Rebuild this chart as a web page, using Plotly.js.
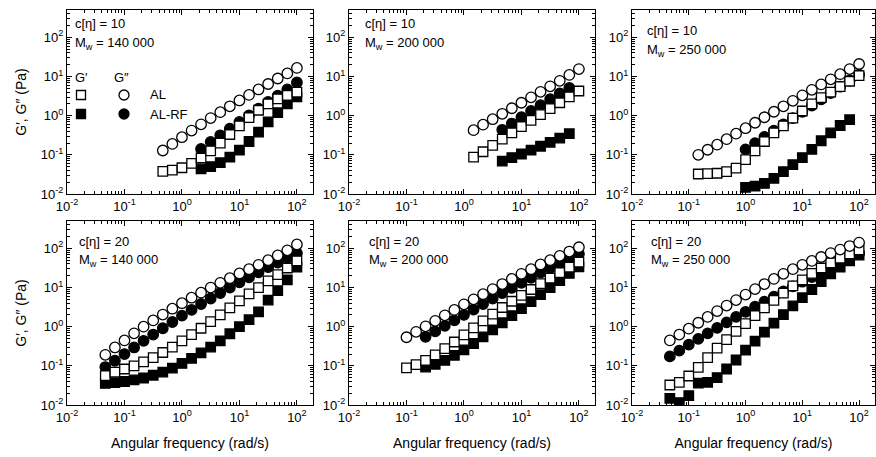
<!DOCTYPE html>
<html>
<head>
<meta charset="utf-8">
<script src="https://cdn.plot.ly/plotly-3.0.1.min.js"></script>
<style>html,body{margin:0;padding:0;background:#fff;}#chart{width:876px;height:457px;}</style>
</head>
<body>
<div id="chart"></div>
<script>
// ---------- DATA (angular frequency in rad/s, moduli in Pa) ----------
// Panel 1: c[eta]=10, Mw=140 000
const p1_w_AL = [0.464,0.681,1,1.47,2.15,3.16,4.64,6.81,10,14.7,21.5,31.6,46.4,68.1,100];
const p1_G2_AL = [0.129,0.19,0.282,0.417,0.603,0.871,1.23,1.74,2.45,3.39,4.68,6.46,8.91,12.0,16.6];
const p1_G1_AL = [0.038,0.0407,0.0468,0.0603,0.0832,0.126,0.2,0.331,0.55,0.891,1.38,2.0,2.69,3.31,3.98];
const p1_w_RF = [2.15,3.16,4.64,6.81,10,14.7,21.5,31.6,46.4,68.1,100];
const p1_G2_RF = [0.141,0.214,0.316,0.468,0.692,1.02,1.51,2.24,3.24,4.68,7.08];
const p1_G1_RF = [0.0437,0.0501,0.0631,0.0871,0.132,0.219,0.38,0.692,1.2,2.0,3.02];
// Panel 2: c[eta]=10, Mw=200 000
const p2_w_AL = [1.47,2.15,3.16,4.64,6.81,10,14.7,21.5,31.6,46.4,68.1,100];
const p2_G2_AL = [0.427,0.589,0.813,1.12,1.55,2.14,2.95,4.07,5.62,7.76,11.0,15.5];
const p2_G1_AL = [0.0871,0.12,0.174,0.251,0.363,0.525,0.759,1.07,1.51,2.14,3.02,4.27];
const p2_w_RF = [4.64,6.81,10,14.7,21.5,31.6,46.4,68.1];
const p2_G2_RF = [0.437,0.631,0.912,1.32,1.86,2.63,3.72,5.13];
const p2_G1_RF = [0.0692,0.0851,0.105,0.132,0.166,0.209,0.269,0.347];
// Panel 3: c[eta]=10, Mw=250 000
const p3_w_AL = [0.147,0.215,0.316,0.464,0.681,1,1.47,2.15,3.16,4.64,6.81,10,14.7,21.5,31.6,46.4,68.1,100];
const p3_G2_AL = [0.1,0.135,0.182,0.251,0.347,0.479,0.661,0.912,1.26,1.74,2.4,3.31,4.57,6.31,8.51,11.5,15.5,20.9];
const p3_G1_AL = [0.0324,0.0331,0.0339,0.0372,0.0457,0.0759,0.126,0.219,0.363,0.55,0.871,1.32,2.0,2.88,3.98,5.5,7.59,10.5];
const p3_w_RFc = [1,1.47,2.15,3.16,4.64,6.81,10,14.7,21.5,31.6,46.4,68.1,100];
const p3_G2_RF = [0.138,0.2,0.288,0.417,0.603,0.871,1.26,1.82,2.63,3.8,5.5,7.94,11.2];
const p3_w_RFs = [1,1.47,2.15,3.16,4.64,6.81,10,14.7,21.5,31.6,46.4,68.1];
const p3_G1_RF = [0.0148,0.0158,0.0186,0.0251,0.0372,0.0562,0.0851,0.138,0.229,0.363,0.562,0.794];
// Panel 4: c[eta]=20, Mw=140 000
const p4_w = [0.0464,0.0681,0.1,0.147,0.215,0.316,0.464,0.681,1,1.47,2.15,3.16,4.64,6.81,10,14.7,21.5,31.6,46.4,68.1,100];
const p4_G2_AL = [0.191,0.295,0.447,0.676,1.0,1.45,2.04,2.88,3.98,5.5,7.41,10,13.2,17.4,22.9,29.5,38.0,50.1,66.1,89.1,126];
const p4_G2_RF = [0.0933,0.135,0.2,0.295,0.437,0.631,0.912,1.32,1.91,2.69,3.8,5.25,7.24,10,13.5,18.2,24.5,33.1,43.7,57.5,75.9];
const p4_G1_AL = [0.0562,0.0692,0.0832,0.1,0.126,0.162,0.219,0.302,0.437,0.631,0.912,1.35,2.0,3.02,4.57,6.92,10,14.8,21.4,31.6,47.9];
const p4_G1_RF = [0.0355,0.0372,0.0398,0.0437,0.049,0.0575,0.0692,0.0871,0.115,0.155,0.214,0.302,0.437,0.661,1.0,1.51,2.4,4.79,8.32,15.8,33.1];
// Panel 5: c[eta]=20, Mw=200 000
const p5_w_AL = [0.1,0.147,0.215,0.316,0.464,0.681,1,1.47,2.15,3.16,4.64,6.81,10,14.7,21.5,31.6,46.4,68.1,100];
const p5_G2_AL = [0.537,0.741,1.02,1.41,1.95,2.69,3.72,5.01,6.76,9.12,12.3,16.6,22.4,29.5,38.9,50.1,64.6,83.2,107];
const p5_G1_AL = [0.0891,0.107,0.138,0.191,0.275,0.407,0.617,0.933,1.41,2.09,3.09,4.47,6.31,8.91,12.6,17.4,24.0,33.1,44.7];
const p5_w_RF = [0.215,0.316,0.464,0.681,1,1.47,2.15,3.16,4.64,6.81,10,14.7,21.5,31.6,46.4,68.1,100];
const p5_G2_RF = [0.55,0.759,1.05,1.45,2.0,2.75,3.8,5.25,7.24,9.77,13.2,17.8,24.0,31.6,41.7,55.0,72.4];
const p5_G1_RF = [0.0933,0.11,0.138,0.186,0.257,0.372,0.55,0.832,1.26,1.91,2.88,4.37,6.61,10,15.1,22.9,33.9];
// Panel 6: c[eta]=20, Mw=250 000
const p6_w = [0.0464,0.0681,0.1,0.147,0.215,0.316,0.464,0.681,1,1.47,2.15,3.16,4.64,6.81,10,14.7,21.5,31.6,46.4,68.1,100];
const p6_G2_AL = [0.447,0.631,0.891,1.26,1.78,2.51,3.47,4.79,6.61,9.12,12.3,16.6,22.4,29.5,38.0,47.9,60.3,75.9,93.3,115,141];
const p6_G2_RF = [0.174,0.245,0.347,0.49,0.676,0.933,1.29,1.78,2.4,3.24,4.37,5.89,7.94,10.7,14.1,18.6,24.5,32.4,42.7,56.2,74.1];
const p6_G1_AL = [0.0324,0.038,0.055,0.0912,0.162,0.282,0.468,0.759,1.2,1.91,3.02,4.68,7.24,11.0,15.8,22.9,31.6,42.7,56.2,72.4,91.2];
const p6_G1_RF = [0.0148,0.0115,0.0174,0.0363,0.038,0.0501,0.0832,0.141,0.251,0.427,0.724,1.23,2.04,3.39,5.5,8.91,14.1,22.4,33.1,47.9,67.6];

const conc = ['10','10','10','20','20','20'];
const mw = ['140 000','200 000','250 000','140 000','200 000','250 000'];
const decadeVals = [0.01,0.1,1,10,100];
const decadeText = ['10<sup>-2</sup>','10<sup>-1</sup>','10<sup>0</sup>','10<sup>1</sup>','10<sup>2</sup>'];
const xTitle = 'Angular frequency (rad/s)';
const yTitle = 'G\u2032, G\u2033 (Pa)';
const legHead = ['G\u2032','G\u2033'];
const legNames = ['AL','AL-RF'];

const panels = [
  {G1RF:[p1_w_RF,p1_G1_RF], G2RF:[p1_w_RF,p1_G2_RF], G1AL:[p1_w_AL,p1_G1_AL], G2AL:[p1_w_AL,p1_G2_AL]},
  {G1RF:[p2_w_RF,p2_G1_RF], G2RF:[p2_w_RF,p2_G2_RF], G1AL:[p2_w_AL,p2_G1_AL], G2AL:[p2_w_AL,p2_G2_AL]},
  {G1RF:[p3_w_RFs,p3_G1_RF], G2RF:[p3_w_RFc,p3_G2_RF], G1AL:[p3_w_AL,p3_G1_AL], G2AL:[p3_w_AL,p3_G2_AL]},
  {G1RF:[p4_w,p4_G1_RF], G2RF:[p4_w,p4_G2_RF], G1AL:[p4_w,p4_G1_AL], G2AL:[p4_w,p4_G2_AL]},
  {G1RF:[p5_w_RF,p5_G1_RF], G2RF:[p5_w_RF,p5_G2_RF], G1AL:[p5_w_AL,p5_G1_AL], G2AL:[p5_w_AL,p5_G2_AL]},
  {G1RF:[p6_w,p6_G1_RF], G2RF:[p6_w,p6_G2_RF], G1AL:[p6_w,p6_G1_AL], G2AL:[p6_w,p6_G2_AL]}
];

// ---------- LAYOUT ----------
const W = 876, H = 457;
const FONT = 'Liberation Sans, Arial, sans-serif';
const px = x => x / W, py = y => 1 - y / H;
const colDom = [[67,313],[349,595],[632,875]];
const rowDom = [[10,194],[221,405]];

const minorVals = [];
for (let e = -3; e <= 3; e++) for (let m = 2; m <= 9; m++) minorVals.push(m * Math.pow(10, e));

const styles = {
  G1RF: {symbol:'square', color:'#000', size:9.5},
  G2RF: {symbol:'circle', color:'#000', size:10.5},
  G1AL: {symbol:'square', color:'#fff', size:9.5},
  G2AL: {symbol:'circle', color:'#fff', size:10.5}
};
const order = ['G1RF','G2RF','G1AL','G2AL'];

const data = [];
const layout = {
  width: W, height: H, margin:{l:0,r:0,t:0,b:0},
  paper_bgcolor:'#fff', plot_bgcolor:'#fff', showlegend:false,
  font:{family:FONT, color:'#000', size:13},
  annotations: [], shapes: []
};

panels.forEach((p, i) => {
  const sfx = i === 0 ? '' : String(i + 1);
  const col = i % 3, row = Math.floor(i / 3);
  order.forEach(k => {
    const st = styles[k];
    data.push({
      type:'scatter', mode:'markers', x:p[k][0], y:p[k][1],
      xaxis:'x' + sfx, yaxis:'y' + sfx, cliponaxis:true,
      marker:{symbol:st.symbol, size:st.size, color:st.color, line:{color:'#000', width:1.3}}
    });
  });
  const common = {
    type:'log', showline:true, linecolor:'#000', linewidth:1, mirror:'ticks',
    ticks:'inside', ticklen:5, tickwidth:1, tickcolor:'#000',
    tickmode:'array', tickvals:decadeVals, ticktext:decadeText,
    showgrid:false, zeroline:false,
    tickfont:{family:FONT, size:13, color:'#000'},
    minor:{tickmode:'array', tickvals:minorVals, ticks:'inside', ticklen:3, tickcolor:'#000', showgrid:false}
  };
  layout['xaxis' + sfx] = Object.assign({}, common, {
    domain:[px(colDom[col][0]), px(colDom[col][1])],
    range:[-2, 2.28], anchor:'y' + sfx,
    title: row === 1 ? {text:xTitle, font:{family:FONT, size:14}, standoff:14} : undefined
  });
  layout['yaxis' + sfx] = Object.assign({}, common, {
    domain:[py(rowDom[row][1]), py(rowDom[row][0])],
    range:[-2, 2.7], anchor:'x' + sfx,
    title: col === 0 ? {text:yTitle, font:{family:FONT, size:14}, standoff:10} : undefined
  });
  const tx = [73, 363, 645][col] + (row === 1 ? 4 : 0);
  const ty = row === 0 ? (col === 2 ? 31 : 24) : 241;
  layout.annotations.push({xref:'paper', yref:'paper', x:px(tx), y:py(ty), xanchor:'left', yanchor:'middle',
    text:'c[\u03b7] = ' + conc[i], showarrow:false, font:{family:FONT, size:13}});
  layout.annotations.push({xref:'paper', yref:'paper', x:px(tx), y:py(ty + 19), xanchor:'left', yanchor:'middle',
    text:'M<sub>w</sub> = ' + mw[i], showarrow:false, font:{family:FONT, size:13}});
});

// legend drawn inside first panel
layout.annotations.push({xref:'paper', yref:'paper', x:px(81), y:py(77), xanchor:'center', yanchor:'middle', text:legHead[0], showarrow:false, font:{family:FONT, size:13}});
layout.annotations.push({xref:'paper', yref:'paper', x:px(121), y:py(77), xanchor:'center', yanchor:'middle', text:legHead[1], showarrow:false, font:{family:FONT, size:13}});
layout.annotations.push({xref:'paper', yref:'paper', x:px(148), y:py(95), xanchor:'left', yanchor:'middle', text:legNames[0], showarrow:false, font:{family:FONT, size:13}});
layout.annotations.push({xref:'paper', yref:'paper', x:px(148), y:py(114), xanchor:'left', yanchor:'middle', text:legNames[1], showarrow:false, font:{family:FONT, size:13}});
function legShape(type, cx, cy, fill, r) {
  layout.shapes.push({type:type, xref:'paper', yref:'paper', xsizemode:'pixel', ysizemode:'pixel',
    xanchor:px(cx), yanchor:py(cy), x0:-r, x1:r, y0:-r, y1:r,
    fillcolor:fill, line:{color:'#000', width:1.3}});
}
legShape('rect', 81, 95, '#fff', 4.5);
legShape('circle', 124, 95, '#fff', 5);
legShape('rect', 81, 114, '#000', 4.5);
legShape('circle', 124, 114, '#000', 5);

Plotly.newPlot('chart', data, layout, {staticPlot:true});
</script>
</body>
</html>
